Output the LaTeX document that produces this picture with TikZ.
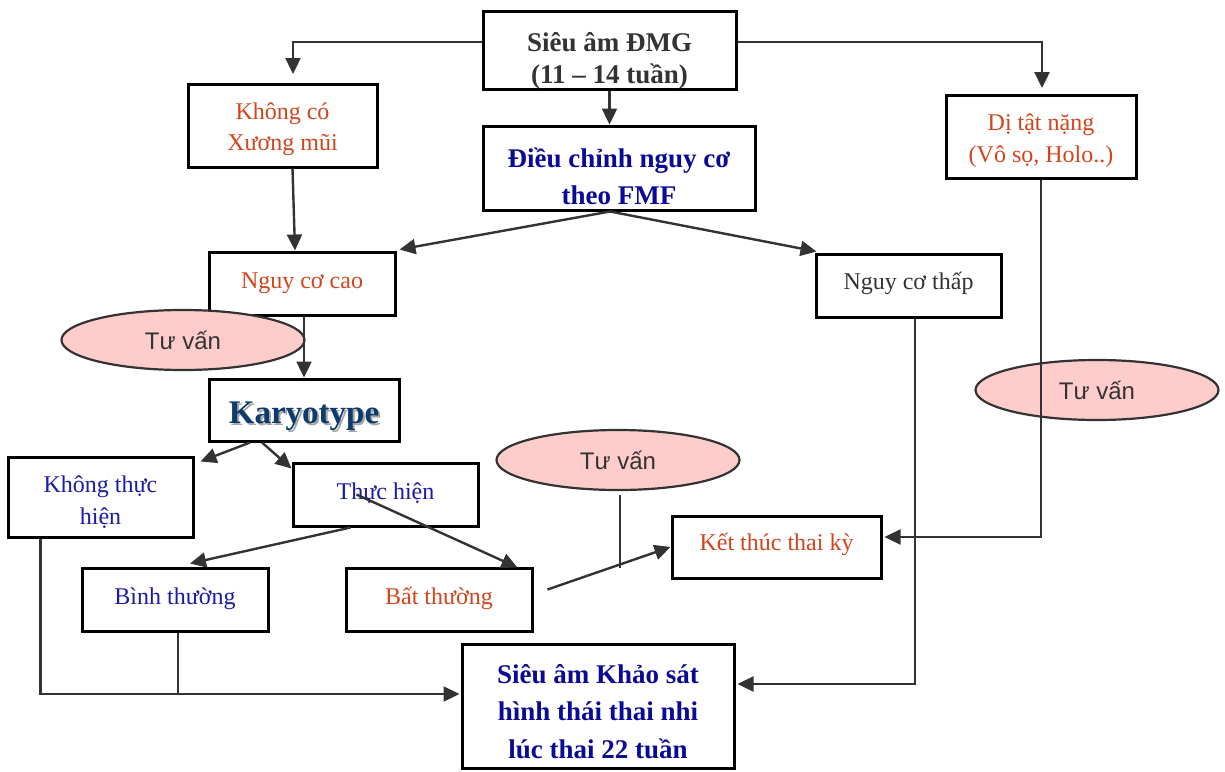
\documentclass[tikz,border=0pt]{standalone}
\usepackage{fontspec}
\setmainfont{Liberation Serif}
\newfontfamily\tvsans{Liberation Sans}
\usetikzlibrary{arrows.meta,shapes.geometric}
\definecolor{warm}{HTML}{D2441C}
\definecolor{cool}{HTML}{1B1BA6}
\definecolor{deep}{HTML}{0A0A96}
\definecolor{navy}{HTML}{0E3B6E}
\definecolor{ink}{HTML}{333333}
\definecolor{pinkfill}{HTML}{FFCCCC}
% set a line (or a stack of lines) with its first baseline #1 above the node centre
\newcommand\liftline[2]{\raisebox{#1}[0pt][0pt]{#2}}
\newcommand\liftstack[2]{\raisebox{#1}[0pt][0pt]{\begin{tabular}[t]{@{}c@{}}#2\end{tabular}}}
\begin{document}
\begin{tikzpicture}[x=1pt,y=-1pt,
  box/.style={draw=black,line width=3pt,fill=white,inner sep=0pt,align=center,
    font=\fontsize{24}{31}\selectfont},
  boldbox/.style={box,font=\fontsize{27}{37}\selectfont\bfseries},
  talk/.style={ellipse,draw=ink,line width=2.2pt,fill=pinkfill,inner sep=0pt,
    minimum width=243pt,minimum height=60pt,text=ink,font=\tvsans\fontsize{24}{30}\selectfont},
  link/.style={draw=ink,line width=2.4pt},
  arr/.style={link,-{Triangle[length=16pt,width=15pt]}}]
\useasboundingbox (0,0) rectangle (1225,771);

% boxes
\node[boldbox,text=ink,font=\fontsize{27}{32}\selectfont\bfseries,minimum width=253pt,minimum height=78pt] (top) at (609.5,50)
  {\liftstack{-1pt}{Siêu âm ĐMG\\(11 – 14 tuần)}};
\node[box,text=warm,minimum width=189pt,minimum height=83pt] (nocox) at (282.5,125.5)
  {\liftstack{6.5pt}{Không có\\Xương mũi}};
\node[boldbox,text=deep,minimum width=272pt,minimum height=84pt] (dieu) at (619,168)
  {\liftstack{1pt}{Điều chỉnh nguy cơ\\theo FMF}};
\node[box,text=warm,font=\fontsize{24}{32}\selectfont,minimum width=190pt,minimum height=83pt] (dt) at (1041,136.5)
  {\liftstack{6.5pt}{Dị tật nặng\\(Vô sọ, Holo..)}};
\node[box,text=warm,minimum width=186pt,minimum height=63pt] (ncc) at (302,283.5) {\liftline{-4.5pt}{Nguy cơ cao}};
\node[box,text=ink,minimum width=185pt,minimum height=63pt] (nct) at (908.5,285.5) {\liftline{-3.5pt}{Nguy cơ thấp}};

% counselling ellipses
\node[talk] (tv1) at (183,340) {Tư vấn};
\node[talk] (tv3) at (1097,390) {Tư vấn};
\node[talk] (tv2) at (618,460) {Tư vấn};

\node[box,minimum width=190pt,minimum height=62pt,font=\fontsize{33}{36}\selectfont\bfseries] (kary) at (304,410)
  {\liftline{-13pt}{\rlap{\kern2pt\raisebox{-2pt}{\color{black!35}Karyotype}}\textcolor{navy}{Karyotype}}};
\node[box,text=cool,font=\fontsize{24}{32}\selectfont,minimum width=185pt,minimum height=80pt] (ktth) at (100.5,497)
  {\liftstack{5pt}{Không thực\\hiện}};
\node[box,text=cool,minimum width=185pt,minimum height=63pt] (th) at (385.5,494.5) {\liftline{-4.5pt}{Thực hiện}};
\node[box,text=warm,minimum width=209pt,minimum height=62pt] (kt) at (776.5,547) {\liftline{-3pt}{Kết thúc thai kỳ}};
\node[box,text=cool,minimum width=186pt,minimum height=63pt] (bt) at (175,599.5) {\liftline{-4.5pt}{Bình thường}};
\node[box,text=warm,minimum width=186pt,minimum height=63pt] (bat) at (439,599.5) {\liftline{-4.5pt}{Bất thường}};
\node[boldbox,text=deep,font=\fontsize{27}{37.5}\selectfont\bfseries,minimum width=272pt,minimum height=124pt] (sa) at (598,706)
  {\liftstack{23pt}{Siêu âm Khảo sát\\hình thái thai nhi\\lúc thai 22 tuần}};

% free ends
\coordinate (a1) at (293,74);
\coordinate (a2) at (1042,88);
\coordinate (tvend) at (620,568);
\coordinate (join) at (178,694);

% connectors
\draw[arr] ([yshift=8pt]top.west) -| (a1);
\draw[arr] ([yshift=8pt]top.east) -| (a2);
\draw[arr] (top.south) -- (top.south |- dieu.north);
\draw[arr] ([xshift=10pt]nocox.south) -- ([xshift=-7pt]ncc.north);
\draw[arr] ([xshift=-9pt]dieu.south) -- ([xshift=3pt,yshift=1pt]ncc.north east);
\draw[arr] ([xshift=-9pt]dieu.south) -- ([xshift=2pt,yshift=1pt]nct.north west);
\draw[arr] (kary.north |- ncc.south) -- (kary.north);
\draw[arr] ([xshift=-54pt]kary.south) -- ([xshift=6pt,yshift=-6pt]ktth.north east);
\draw[arr] ([xshift=-42pt]kary.south) -- ([yshift=-7pt]th.north west);
\draw[arr] ([xshift=-35pt]th.south) -- ([xshift=15pt,yshift=3pt]bt.north);
\draw[arr] ([xshift=-29pt]th.center) -- ([xshift=-16pt,yshift=-1pt]bat.north east);
\draw[arr] ([xshift=14pt,yshift=10pt]bat.east) -- (kt.west);
\draw[link] ([xshift=2pt,yshift=-4pt]tv2.south) -- (tvend);
\draw[arr] ([xshift=6.5pt]nct.south) |- ([xshift=2pt,yshift=22pt]sa.east);
\draw[arr] (dt.south) |- ([xshift=2pt,yshift=10pt]kt.east);
\draw[arr] ([xshift=-60pt]ktth.south) |- ([xshift=-1pt,yshift=12pt]sa.west);
\draw[link] ([xshift=3pt]bt.south) -- (join);
\end{tikzpicture}
\end{document}
